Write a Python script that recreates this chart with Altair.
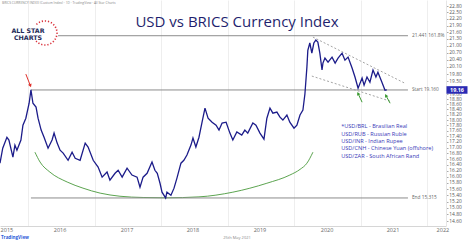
import altair as alt
import pandas as pd

# ---------------- data ----------------
dates = [
    "2015-07-31", "2015-08-15", "2015-09-07", "2015-09-18", "2015-10-10", "2015-10-21",
    "2015-11-01", "2015-11-23", "2015-12-04", "2015-12-20", "2016-01-07", "2016-01-17",
    "2016-01-28", "2016-02-14", "2016-02-25", "2016-03-13", "2016-03-29", "2016-04-20",
    "2016-05-12", "2016-05-23", "2016-06-09", "2016-06-25", "2016-07-12", "2016-08-08",
    "2016-08-30", "2016-09-16", "2016-10-13", "2016-11-10", "2016-11-26", "2016-12-24",
    "2017-01-20", "2017-02-11", "2017-03-10", "2017-03-26", "2017-04-23", "2017-05-10",
    "2017-06-01", "2017-06-28", "2017-07-25", "2017-08-22", "2017-09-07", "2017-09-24",
    "2017-10-16", "2017-11-12", "2017-11-28", "2017-12-11", "2017-12-26", "2018-01-06",
    "2018-01-26", "2018-02-02", "2018-02-24", "2018-03-13", "2018-03-29", "2018-04-20",
    "2018-05-06", "2018-05-23", "2018-06-14", "2018-06-25", "2018-07-11", "2018-07-28",
    "2018-08-14", "2018-08-30", "2018-09-16", "2018-10-08", "2018-10-30", "2018-11-15",
    "2018-12-02", "2018-12-24", "2019-01-14", "2019-01-30", "2019-02-21", "2019-03-20",
    "2019-04-06", "2019-04-22", "2019-05-20", "2019-06-06", "2019-06-28", "2019-07-20",
    "2019-08-05", "2019-08-22", "2019-09-07", "2019-09-29", "2019-10-16", "2019-11-01",
    "2019-11-23", "2019-12-09", "2020-01-01", "2020-01-17", "2020-02-03", "2020-02-19",
    "2020-03-01", "2020-03-12", "2020-03-17", "2020-03-28", "2020-04-08", "2020-04-19",
    "2020-04-30", "2020-05-11", "2020-05-22", "2020-06-03", "2020-06-08", "2020-06-19",
    "2020-07-06", "2020-07-28", "2020-08-14", "2020-08-30", "2020-09-21", "2020-10-07",
    "2020-10-24", "2020-11-15", "2020-12-01", "2020-12-18", "2021-01-09", "2021-01-20",
    "2021-02-05", "2021-02-21", "2021-03-10", "2021-03-26", "2021-04-06", "2021-04-28",
    "2021-05-15", "2021-05-25",
]
values = [
    16.46, 16.98, 17.37, 17.27, 16.67, 17.09,
    16.91, 17.27, 17.81, 18.07, 18.64, 19.16,
    18.64, 18.49, 18.07, 17.63, 17.37, 16.98,
    17.27, 17.52, 17.16, 16.91, 16.81, 16.56,
    16.84, 16.63, 16.56, 17.16, 17.02, 16.56,
    16.33, 15.99, 16.16, 15.89, 16.12, 16.22,
    15.99, 16.29, 16.06, 15.99, 15.66, 15.99,
    16.12, 16.50, 16.22, 16.12, 15.79, 15.50,
    15.315, 15.50, 15.40, 15.63, 15.96, 16.46,
    16.56, 16.74, 17.09, 17.34, 17.02, 17.37,
    17.92, 18.45, 18.07, 17.92, 17.81, 17.63,
    17.89, 17.92, 17.52, 17.27, 17.56, 17.45,
    17.63, 17.52, 17.89, 17.81, 17.52, 17.30,
    18.07, 18.45, 18.26, 18.30, 18.11, 18.00,
    18.19, 17.92, 17.70, 17.81, 18.19, 18.38,
    19.00, 20.10, 20.80, 21.12, 20.68, 21.12,
    21.25, 21.16, 20.68, 19.97, 20.26, 20.47,
    20.30, 20.51, 20.26, 20.47, 20.68, 20.38,
    20.51, 20.05, 19.68, 19.23, 19.64, 19.35,
    19.68, 19.47, 19.97, 19.68, 19.88, 19.47,
    19.15, 19.16,
]

# green rounding-bottom arc
arc_dates = ["2016-02-08", "2016-03-07", "2016-04-30", "2016-08-03", "2016-10-29",
             "2017-01-31", "2017-05-20", "2017-09-24", "2018-01-27", "2018-07-28",
             "2019-01-30", "2019-08-05", "2019-12-09", "2020-02-03", "2020-03-12",
             "2020-04-14"]
arc_values = [16.84, 16.50, 16.16, 15.83, 15.63, 15.47, 15.37, 15.33, 15.32, 15.35,
              15.50, 15.79, 16.06, 16.25, 16.46, 16.84]

# horizontal levels
level_labels = ["21.441   161.8%", "Start    19.160", "End    15.315"]
level_values = [21.441, 19.160, 15.315]
level_starts = ["2016-06-14", "2016-01-17", "2016-01-17"]
level_ends = ["2021-09-18", "2021-09-18", "2021-09-18"]
level_label_dates = ["2021-10-10", "2021-10-10", "2021-10-10"]

# dotted channel
chan_start_dates = ["2020-04-14", "2020-04-08"]
chan_start_values = [21.38, 19.72]
chan_end_dates = ["2021-09-01", "2021-06-12"]
chan_end_values = [19.43, 18.72]

# arrows (tail -> head)
arrow_tail_dates = ["2015-12-20", "2021-01-09", "2021-06-12"]
arrow_tail_values = [19.80, 18.68, 18.64]
arrow_head_dates = ["2016-01-14", "2020-12-18", "2021-05-20"]
arrow_head_values = [19.33, 19.02, 18.94]
arrow_colors = ["#e0302a", "#3c9a32", "#3c9a32"]
arrow_shapes = ["triangle-down", "triangle-up", "triangle-up"]
arrow_angles = [340, 336, 333]

# currency list
pair_labels = ["*USD/BRL - Brasilian Real", "USD/RUB - Russian Ruble",
               "USD/INR - Indian Rupee", "USD/CNH - Chinese Yuan (offshore)",
               "USD/ZAR - South African Rand"]
pair_values = [17.77, 17.48, 17.23, 16.98, 16.70]
pair_dates = ["2020-09-16"] * 5

# axis text
year_labels = ["2015", "2016", "2017", "2018", "2019", "2020", "2021", "2022"]
year_label_dates = ["2015-09-07", "2016-06-25", "2017-06-28", "2018-06-25",
                    "2019-06-28", "2020-07-01", "2021-06-28", "2022-03-29"]
y_ticks = [22.8, 22.5, 22.2, 21.9, 21.6, 21.3, 21.0, 20.7, 20.4, 20.1, 19.8, 19.5,
           19.0, 18.8, 18.6, 18.4, 18.2, 18.0, 17.8, 17.6, 17.4, 17.2, 17.0, 16.8,
           16.6, 16.4, 16.2, 16.0, 15.8, 15.6, 15.4, 15.2, 15.0, 14.8, 14.6]
grid_years = [2016, 2017, 2018, 2019, 2020, 2021, 2022]
last_price = 19.16

title_text = "USD vs BRICS Currency Index"
header_text = "BRICS CURRENCY INDEX (Custom Index) · 1D · TradingView · All Star Charts"
footer_date = "25th May 2021"

# ---------------- tables ----------------
df_main = pd.DataFrame({"date": pd.to_datetime(dates), "value": values})
df_arc = pd.DataFrame({"date": pd.to_datetime(arc_dates), "value": arc_values})
df_lev = pd.DataFrame({"s": pd.to_datetime(level_starts), "e": pd.to_datetime(level_ends),
                       "ld": pd.to_datetime(level_label_dates), "value": level_values,
                       "label": level_labels})
df_chan = pd.DataFrame({"s": pd.to_datetime(chan_start_dates), "sv": chan_start_values,
                        "e": pd.to_datetime(chan_end_dates), "ev": chan_end_values})
df_arr = pd.DataFrame({"td": pd.to_datetime(arrow_tail_dates), "tv": arrow_tail_values,
                       "hd": pd.to_datetime(arrow_head_dates), "hv": arrow_head_values,
                       "c": arrow_colors, "shape": arrow_shapes, "ang": arrow_angles})
df_pairs = pd.DataFrame({"date": pd.to_datetime(pair_dates), "value": pair_values,
                         "label": pair_labels})
df_years = pd.DataFrame({"date": pd.to_datetime(year_label_dates), "label": year_labels})
df_last = pd.DataFrame({"value": [last_price], "label": [f"{last_price:.2f}"]})

FONT = "Open Sans"
X_SCALE = alt.Scale(domain=[alt.DateTime(year=2015, month=7, date=31),
                            alt.DateTime(year=2022, month=4, date=15)])
Y_SCALE = alt.Scale(type="log", domain=[14.45, 23.09], nice=False)
X_AXIS = alt.Axis(values=[alt.DateTime(year=y, month=1, date=1) for y in grid_years],
                  labels=False, ticks=False, grid=True, gridColor="#eeeeee",
                  domainColor="#d6d6d6", title=None)
Y_AXIS = alt.Axis(orient="right", values=y_ticks, format=".2f", grid=False,
                  labelFontSize=4.9, labelColor="#555555", labelFont=FONT,
                  tickSize=2, tickColor="#aaaaaa", domainColor="#e6e6e6",
                  labelPadding=0.8, title=None, labelOverlap=False)


def X(field):
    return alt.X(field, type="temporal", scale=X_SCALE, axis=X_AXIS)


def Y(field):
    return alt.Y(field, type="quantitative", scale=Y_SCALE, axis=Y_AXIS)


line = alt.Chart(df_main).mark_line(color="#1c1c8a", strokeWidth=1.3).encode(
    x=X("date"), y=Y("value"))

arc = alt.Chart(df_arc).mark_line(color="#4a9a3c", strokeWidth=0.9,
                                  interpolate="monotone").encode(
    x=X("date"), y=Y("value"))

levels = alt.Chart(df_lev).mark_rule(color="#8c8c8c", strokeWidth=1).encode(
    x=X("s"), x2="e", y=Y("value"))

level_text = alt.Chart(df_lev).mark_text(align="left", baseline="middle", fontSize=4.8,
                                         font=FONT, color="#666666").encode(
    x=X("ld"), y=Y("value"), text="label")

chan = alt.Chart(df_chan).mark_rule(color="#9a9a9a", strokeWidth=0.9,
                                    strokeDash=[2, 2]).encode(
    x=X("s"), x2="e", y=Y("sv"), y2="ev")

arrow_shaft = alt.Chart(df_arr).mark_rule(strokeWidth=1).encode(
    x=X("td"), x2="hd", y=Y("tv"), y2="hv",
    color=alt.Color("c:N", scale=None))

arrow_head = alt.Chart(df_arr).mark_point(filled=True, size=14, opacity=1).encode(
    x=X("hd"), y=Y("hv"),
    color=alt.Color("c:N", scale=None),
    shape=alt.Shape("shape:N", scale=None),
    angle=alt.Angle("ang:Q", scale=None))

pairs = alt.Chart(df_pairs).mark_text(align="left", baseline="middle", fontSize=5.6,
                                      font=FONT, color="#3a3ab8").encode(
    x=X("date"), y=Y("value"), text="label")

years = alt.Chart(df_years).mark_text(align="center", baseline="middle", fontSize=5.5,
                                      font=FONT, color="#666666").encode(
    x=X("date"), y=alt.value(230), text="label")

last_box = alt.Chart(df_last).mark_point(
    shape="M -1 -0.36 L 1 -0.36 L 1 0.36 L -1 0.36 Z", size=441, filled=True,
    color="#2a2ab4", opacity=1).encode(x=alt.value(457), y=Y("value"))

last_text = alt.Chart(df_last).mark_text(align="center", baseline="middle",
                                         fontSize=5.4, font=FONT, color="white",
                                         fontWeight="bold").encode(
    x=alt.value(457), y=Y("value"), text="label")

title = alt.Chart(pd.DataFrame({"t": [title_text]})).mark_text(
    fontSize=15, font=FONT, color="#1f1f6e", align="center", baseline="middle").encode(
    x=alt.value(237), y=alt.value(22), text="t")

logo1 = alt.Chart(pd.DataFrame({"t": ["ALL STAR"]})).mark_text(
    fontSize=6.3, font="DejaVu Sans", fontWeight="bold", color="#1e2a58",
    align="center", baseline="middle").encode(x=alt.value(28), y=alt.value(31), text="t")
logo2 = alt.Chart(pd.DataFrame({"t": ["CHARTS"]})).mark_text(
    fontSize=6.3, font="DejaVu Sans", fontWeight="bold", color="#1e2a58",
    align="center", baseline="middle").encode(x=alt.value(28), y=alt.value(37.5), text="t")
logo_ring = alt.Chart(pd.DataFrame({"t": ["ring"]})).mark_point(
    shape="M -0.71 -0.71 A 1 1 0 1 1 -0.74 0.67", size=576, filled=False,
    color="#d9303a", strokeWidth=1.6, strokeDash=[1.2, 1.9], opacity=1).encode(
    x=alt.value(45), y=alt.value(33))

header = alt.Chart(pd.DataFrame({"t": [header_text]})).mark_text(
    fontSize=3.3, font=FONT, color="#888888", align="left", baseline="middle").encode(
    x=alt.value(2), y=alt.value(3), text="t")

footer = alt.Chart(pd.DataFrame({"t": [footer_date]})).mark_text(
    fontSize=4, font=FONT, color="#888888", align="center", baseline="middle").encode(
    x=alt.value(237), y=alt.value(238), text="t")

tv = alt.Chart(pd.DataFrame({"t": ["TradingView"]})).mark_text(
    fontSize=4.5, font=FONT, color="#2a5ad8", fontWeight="bold", align="left",
    baseline="middle").encode(x=alt.value(1), y=alt.value(238), text="t")

chart = alt.layer(
    arc, levels, chan, line, level_text, arrow_shaft, arrow_head, pairs, years,
    last_box, last_text, title, logo_ring, logo1, logo2, header, footer, tv,
).properties(
    width=446, height=226,
    padding={"left": 0, "top": 0, "right": 28, "bottom": 16},
    autosize=alt.AutoSizeParams(type="none"),
    background="white",
).configure_view(stroke=None)

chart.save("out.html", embed_options={"renderer": "svg", "actions": False})
